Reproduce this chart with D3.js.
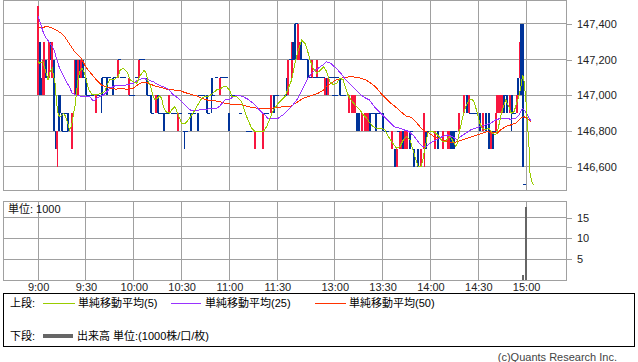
<!DOCTYPE html>
<html>
<head>
<meta charset="utf-8">
<title>Intraday chart</title>
<script src="https://cdn.jsdelivr.net/npm/d3@7"></script>
<style>
  body { margin: 0; background: #fff; }
  svg { display: block; }
  text { font-family: "Liberation Sans", "Noto Sans CJK JP", sans-serif; font-size: 11px; }
</style>
</head>
<body>
<svg id="chart" width="638" height="362"></svg>
<script>
// time axis: bar number from 9:00 (lunch break squeezed)
const timeTicks = [0, 30, 60, 90, 120, 150, 186, 216, 246, 276, 306]
const timeLabels = ["9:00", "9:30", "10:00", "10:30", "11:00", "11:30", "13:00", "13:30", "14:00", "14:30", "15:00"]
const priceTicks = [146600, 146800, 147000, 147200, 147400]
const volTicks = [5, 10, 15]

// 1-minute candles
const barIdx = [0,1,2,3,4,5,7,8,9,10,
  11,12,13,14,15,16,17,18,19,21,
  23,24,25,26,27,28,29,30,31,32,
  34,36,38,40,41,42,43,44,45,47,
  48,50,51,52,54,57,58,59,60,62,
  63,64,65,66,68,69,70,71,72,74,
  75,76,78,79,80,81,82,84,86,88,
  89,92,93,95,96,97,98,100,101,102,
  103,104,106,107,108,109,110,112,114,115,
  116,117,118,120,121,122,123,125,126,127,
  131,132,133,136,137,139,141,142,144,146,
  148,149,150,155,156,157,158,159,160,161,
  162,163,164,165,166,167,168,169,170,171,
  172,173,174,175,176,177,178,179,180,181,
  182,183,184,185,186,187,188,189,190,191,
  192,195,197,198,199,200,201,203,205,206,
  207,208,209,210,212,213,214,216,218,219,
  222,224,225,226,227,228,229,230,231,233,
  234,236,238,240,242,243,244,245,246,247,
  249,251,254,257,258,259,260,261,262,264,
  267,269,270,271,272,273,274,277,279,281,
  283,284,285,286,287,288,289,290,291,292,
  293,294,296,297,298,299,300,301,302,303,
  304,305]

const openP = [147000,147300,147100,147000,147000,147200,147100,147300,147100,147200,
  146800,146700,147000,147000,146900,146800,146900,146800,146900,146700,
  147000,147200,147000,147200,147100,147200,147100,147100,147000,147000,
  147000,146900,147000,147100,147100,147100,147100,147100,147100,147100,
  147100,147100,147200,147100,147100,147000,147000,147000,147000,147100,
  147100,147200,147200,147200,147100,147000,147000,147000,146900,146900,
  147000,146900,146900,146900,146900,146900,146900,146900,146900,146800,
  146900,146800,146800,146900,146900,146900,146900,146900,147000,147000,
  147000,147000,147000,146900,147000,147100,147000,147100,147000,147100,
  147100,147100,147100,146900,147000,147000,147000,147000,147000,146900,
  146800,146800,146800,146700,146800,146800,146700,146900,146900,146900,
  147000,147000,147000,147000,147100,147000,147200,147100,147300,147400,
  147400,147200,147200,147300,147200,147200,147200,147200,147100,147100,
  147100,147100,147100,147100,147100,147100,147100,147100,147000,147100,
  147000,147100,147100,147000,147100,147000,147100,147100,147000,147000,
  147000,146900,146900,146900,146900,146900,146900,146800,146800,146800,
  146800,146900,146900,146900,146900,146900,146900,146900,146800,146800,
  146700,146700,146600,146800,146700,146700,146800,146700,146700,146800,
  146800,146700,146700,146600,146700,146800,146800,146800,146800,146800,
  146700,146800,146700,146700,146700,146800,146800,146800,146800,146800,
  146900,147000,146900,146900,146900,146900,146900,146900,146800,146900,
  146900,146700,146800,146800,146800,146900,146900,146900,146900,147000,
  147000,147000,146900,147000,146900,146900,146900,147100,147100,147400,
  147400,146500]

const highP = [147500,147300,147100,147200,147300,147200,147300,147300,147300,147200,
  146800,146800,147000,147000,146900,146800,146900,146800,146900,146900,
  147200,147200,147200,147200,147200,147200,147100,147100,147000,147000,
  147000,147000,147000,147100,147100,147100,147100,147100,147100,147100,
  147100,147200,147200,147100,147100,147100,147000,147000,147000,147100,
  147200,147200,147200,147200,147100,147000,147000,147000,146900,147000,
  147000,146900,146900,146900,146900,146900,147000,146900,146900,146900,
  146900,146800,146800,146900,146900,146900,146900,146900,147000,147000,
  147000,147000,147000,146900,147000,147100,147000,147100,147100,147100,
  147100,147100,147100,146900,147000,147000,147000,147000,147000,146900,
  146800,146800,146800,146800,146800,146800,146900,146900,146900,147000,
  147000,147000,147000,147000,147100,147200,147200,147300,147300,147400,
  147400,147400,147300,147300,147200,147200,147200,147200,147100,147100,
  147200,147100,147100,147200,147100,147100,147100,147100,147100,147100,
  147100,147100,147100,147000,147100,147000,147100,147100,147000,147000,
  147000,147000,147000,147000,147000,146900,146900,146900,146900,146900,
  146900,146900,146900,146900,146900,146900,146900,146900,146800,146800,
  146800,146700,146700,146800,146800,146800,146800,146800,146800,146800,
  146800,146700,146700,146700,146900,146800,146800,146800,146800,146800,
  146800,146800,146800,146800,146800,146800,146800,146800,146800,146900,
  147000,147000,147000,146900,146900,146900,146900,146900,146900,146900,
  146900,146800,146800,146800,146900,147000,147000,147000,147000,147000,
  147000,147000,147000,147000,146900,146900,147000,147100,147300,147400,
  147400,146500]

const lowP = [147000,147000,147000,147000,147000,147100,147100,147200,147100,146800,
  146700,146600,146800,146900,146800,146800,146900,146800,146800,146700,
  147000,147000,147000,147100,147100,147100,147100,147000,147000,147000,
  147000,146900,147000,146900,147100,147100,147000,147100,147100,147000,
  147100,147100,147200,147100,147100,147000,147000,147000,147000,147100,
  147100,147200,147200,147200,147000,147000,147000,146900,146900,146900,
  146900,146900,146900,146800,146900,146900,146900,146900,146900,146800,
  146900,146700,146800,146900,146800,146900,146900,146800,147000,147000,
  147000,147000,146900,146900,147000,146900,147000,147100,147000,147100,
  147100,147100,147100,146800,147000,147000,147000,147000,147000,146900,
  146800,146800,146800,146700,146800,146800,146700,146900,146900,146900,
  146900,147000,147000,147000,147000,147000,147200,147100,147200,147200,
  147400,147200,147200,147200,147200,147200,147200,147100,147100,147100,
  147100,147100,147100,147100,147100,147100,147100,147100,147000,147000,
  147000,147100,147100,147000,147100,147000,147100,147000,147000,147000,
  147000,146900,146900,146900,146900,146800,146800,146800,146800,146800,
  146800,146800,146900,146900,146800,146900,146900,146800,146800,146800,
  146700,146600,146600,146800,146700,146700,146700,146700,146700,146700,
  146800,146600,146600,146600,146600,146700,146800,146800,146800,146800,
  146700,146700,146700,146700,146700,146700,146700,146700,146800,146800,
  146900,146900,146900,146900,146900,146900,146900,146800,146800,146800,
  146700,146700,146700,146800,146800,146900,146900,146900,146900,146900,
  147000,146900,146900,146800,146900,146900,146900,147000,147100,147000,
  146600,146500]

const closeP = [147500,147000,147000,147200,147300,147100,147300,147200,147300,146800,
  146700,146800,146800,146900,146800,146800,146900,146800,146800,146900,
  147200,147000,147200,147100,147200,147100,147100,147000,147000,147000,
  147000,147000,147000,147000,147100,147100,147000,147100,147100,147000,
  147100,147200,147200,147100,147100,147100,147000,147000,147000,147100,
  147200,147200,147200,147200,147000,147000,147000,146900,146900,147000,
  146900,146900,146900,146800,146900,146900,147000,146900,146900,146900,
  146900,146800,146800,146900,146800,146900,146900,146800,147000,147000,
  147000,147000,146900,146900,147000,147000,147000,147100,147100,147100,
  147100,147100,147100,146800,147000,147000,147000,147000,147000,146900,
  146800,146800,146800,146800,146800,146800,146900,146900,146900,147000,
  146900,147000,147000,147000,147000,147200,147200,147300,147200,147200,
  147400,147400,147300,147200,147200,147200,147200,147100,147100,147100,
  147200,147100,147100,147200,147100,147100,147100,147100,147100,147000,
  147100,147100,147100,147000,147100,147000,147100,147000,147000,147000,
  147000,147000,147000,147000,147000,146800,146800,146900,146900,146900,
  146900,146800,146900,146900,146800,146900,146900,146800,146800,146800,
  146800,146600,146700,146800,146800,146800,146700,146800,146800,146700,
  146800,146600,146600,146700,146900,146700,146800,146800,146800,146800,
  146800,146700,146800,146800,146800,146700,146700,146700,146800,146900,
  147000,146900,147000,146900,146900,146900,146900,146800,146900,146800,
  146700,146800,146700,146800,146900,147000,147000,147000,147000,146900,
  147000,146900,147000,146900,146900,146900,147000,147000,147300,147000,
  146600,146500]

// moving averages: [bar, value]
const ma5 = [[0,147190],[1,147180],[3,147189],[4.5,147143],[6.2,147087],[7.6,147133],[8.9,147152],[9.8,147105],[11,147049],[11.4,146975],
  [12.5,146900],[13.5,146881],[15.2,146891],[16,146900],[17.3,146881],[18.6,146845],[19.8,146807],[21.1,146835],[22.3,146900],[23.1,146937],
  [24,147012],[25,147087],[26.1,147133],[27.7,147152],[29.2,147124],[30.7,147068],[31.9,147031],[34,147003],[36.9,147003],[39.6,147012],
  [41.8,147021],[43.2,147059],[44.9,147087],[48,147091],[50.1,147105],[51.5,147143],[53.2,147152],[55.7,147133],[57.8,147087],[59.7,147077],
  [61.8,147068],[64.3,147115],[66.4,147139],[67.6,147128],[69.1,147077],[70.6,147049],[71.8,147003],[73.3,146975],[74.7,146984],[76,146997],
  [77.5,146984],[78.5,146937],[80.2,146909],[82.3,146900],[83.8,146919],[85.8,146937],[87.9,146891],[90,146845],[92.1,146841],[94.2,146863],
  [96.3,146891],[98.4,146919],[100.4,146952],[102.6,146984],[104.6,146993],[106.7,146993],[109.5,147012],[112,147031],[114,147035],[116.6,147053],
  [118.2,147049],[120.3,147027],[121.4,146993],[124.5,146993],[127.6,146965],[130.8,146881],[133.9,146817],[136,146798],[141.2,146798],[143.3,146825],
  [145.4,146872],[147.5,146919],[150.6,146956],[154.8,146993],[156.9,147040],[159,147087],[161.1,147180],[163.1,147255],[165.3,147310],[167.3,147292],
  [168.8,147255],[170.5,147199],[172.5,147152],[174.7,147124],[177.2,147143],[179.2,147161],[180.9,147133],[183,147077],[185.1,147059],[187.2,147068],
  [189.3,147096],[191.3,147087],[193.5,147021],[195.5,146984],[198.7,146947],[201.8,146919],[203.9,146891],[206,146872],[208.1,146845],[210.2,146825],
  [212.3,146817],[215.4,146817],[217.5,146807],[219.6,146770],[221.7,146742],[224.8,146705],[226.9,146714],[229,146751],[231.1,146770],[233.2,146751],
  [236.3,146658],[238.4,146602],[240.1,146602],[241.2,146639],[243.2,146733],[244.2,146789],[245.3,146798],[247.3,146798],[249.4,146789],[251.4,146770],
  [253.5,146742],[255.6,146742],[257,146761],[258.2,146770],[259.7,146751],[261.8,146714],[262.8,146733],[264.9,146826],[266.6,146891],[268.1,146937],
  [270.2,146975],[272.2,146979],[273.7,146956],[275.4,146900],[277,146845],[278.5,146817],[280.6,146807],[282.7,146817],[284.8,146789],[286.9,146779],
  [288.3,146807],[290,146881],[291.7,146937],[293.2,146975],[295.2,146937],[296.7,146900],[298.4,146909],[300.4,146965],[302.6,147040],[303.8,147115],
  [304.6,147087],[305.7,146993],[306.7,146863],[307.8,146714],[308.4,146565],[309.9,146509],[310.9,146499]]

const ma25 = [[0,147441],[1.4,147404],[3.1,147357],[5.1,147320],[7.3,147295],[8.9,147273],[10.4,147245],[11.8,147199],[13.5,147152],[15.6,147115],
  [17.7,147077],[19.8,147046],[21.4,147012],[23.6,147003],[26.1,146997],[30.2,146993],[32.4,146993],[34,146975],[35,146969],[36.5,146984],
  [38.6,146993],[41.1,147003],[43.2,147021],[44.9,147040],[48,147053],[52.2,147053],[55.3,147059],[59.5,147068],[62.8,147087],[66,147096],
  [69.1,147087],[72.2,147077],[75.4,147059],[78.5,147049],[81.6,147035],[84.8,147003],[87.9,146984],[90,146965],[93.2,146937],[95.2,146919],
  [98.4,146915],[101.5,146919],[104.6,146919],[107.8,146928],[112,146928],[114,146941],[117.2,146975],[120.3,146979],[122.2,146993],[125.3,147003],
  [128.5,146993],[131.6,146979],[134.8,146956],[137.9,146928],[139.9,146909],[142.1,146891],[144.1,146872],[147.3,146869],[150.4,146872],[153.5,146891],
  [156.7,146919],[159.8,146947],[163,146984],[166.1,147040],[169.2,147096],[172.4,147133],[175.5,147152],[178.6,147171],[180.7,147189],[183.6,147180],
  [186.8,147152],[189.9,147124],[193,147087],[196.2,147059],[199.3,147031],[202.4,147003],[205.6,146984],[207.7,146975],[210.8,146937],[213.9,146909],
  [217.1,146881],[220.2,146853],[223.3,146825],[226.5,146817],[229.6,146807],[232.7,146798],[235.9,146770],[239,146733],[241.1,146714],[243.2,146714],
  [247.3,146742],[250.4,146755],[253.5,146770],[256.6,146779],[259.7,146770],[262.8,146751],[264.9,146770],[268.1,146789],[271.2,146807],[274.4,146817],
  [277.5,146826],[280.6,146835],[283.8,146845],[286.9,146863],[290,146872],[293.2,146872],[296.3,146867],[299.4,146872],[301.5,146891],[303.6,146928],
  [305.7,146909],[307.8,146872],[308.9,146859]]

const ma50 = [[0,147376],[3.1,147382],[6.2,147385],[9.3,147376],[11.4,147366],[14.5,147348],[16.7,147329],[18.7,147301],[20.8,147273],[22.9,147245],
  [25,147227],[27.1,147208],[29.2,147171],[31.3,147143],[34,147115],[36.5,147087],[39.6,147059],[42.8,147046],[45.9,147040],[49,147035],
  [52.2,147040],[55.3,147035],[59.5,147040],[63.9,147068],[67,147075],[70.2,147064],[73.3,147053],[76.4,147046],[80.6,147035],[84.8,147031],
  [89,147027],[92.1,147016],[95.2,147008],[99.4,146997],[102.6,146984],[105.7,146975],[109.8,146971],[114,146965],[117.2,146956],[120.3,146952],
  [123.3,146952],[127.4,146947],[130.5,146941],[133.7,146934],[137.9,146928],[142.1,146928],[146.2,146928],[150.4,146934],[154.6,146937],[158.7,146941],
  [162.9,146965],[166.1,146984],[169.2,146993],[172.4,147003],[175.5,147012],[178.6,147027],[180.7,147049],[183.6,147068],[186.8,147087],[189.9,147096],
  [193,147102],[196.2,147105],[199.3,147102],[202.4,147096],[205.6,147087],[208.7,147068],[211.8,147046],[215,147012],[218.1,146984],[221.2,146956],
  [224.4,146934],[227.5,146909],[230.7,146885],[233.8,146878],[236.9,146853],[240.1,146817],[243.2,146798],[245.1,146789],[248.2,146770],[252.4,146755],
  [256.6,146742],[260.8,146736],[262.8,146742],[266,146751],[269.1,146761],[272.2,146770],[275.4,146779],[278.5,146789],[281.6,146798],[284.8,146792],
  [287.9,146789],[290,146807],[293.2,146826],[296.3,146835],[299.4,146845],[302.6,146872],[304.6,146881],[306.7,146872],[308.9,146853]]

// volume, in 1000s
const volIdx = [304, 306]
const volVal = [1.2, 17.6]

const RED = "#f8163f", BLUE = "#003399", GRID = "#a0a0a0"
const LIME = "#99cc00", PURPLE = "#9933ff", ORANGE = "#ff3300"

const left = 3, right = 566
const priceTop = 0, priceBottom = 190, volTop = 201, volBottom = 280

const svg = d3.select("#chart")

const x = d3.scaleLinear().domain([-22, 331]).range([left, right])
const y = d3.scaleLinear().domain([146471, 147534]).range([priceBottom, priceTop])
const yVol = d3.scaleLinear().domain([0, 19]).range([volBottom, volTop])

// grids
const grid = svg.append("g").attr("stroke", GRID).attr("shape-rendering", "crispEdges")
grid.selectAll("line.vx").data(timeTicks).enter().append("line")
    .attr("x1", d => x(d)).attr("x2", d => x(d))
    .attr("y1", priceTop).attr("y2", priceBottom)
grid.selectAll("line.vv").data(timeTicks).enter().append("line")
    .attr("x1", d => x(d)).attr("x2", d => x(d))
    .attr("y1", volTop).attr("y2", volBottom)
grid.selectAll("line.hp").data(priceTicks).enter().append("line")
    .attr("x1", left).attr("x2", right)
    .attr("y1", d => y(d)).attr("y2", d => y(d))
grid.selectAll("line.hv").data(volTicks).enter().append("line")
    .attr("x1", left).attr("x2", right)
    .attr("y1", d => yVol(d)).attr("y2", d => yVol(d))
grid.append("rect").attr("x", left + 0.5).attr("y", priceTop + 0.5)
    .attr("width", right - left).attr("height", priceBottom - priceTop - 0.5).attr("fill", "none")
grid.append("rect").attr("x", left + 0.5).attr("y", volTop + 0.5)
    .attr("width", right - left).attr("height", volBottom - volTop - 0.5).attr("fill", "none")

// axes
const priceAxis = svg.append("g").attr("transform", `translate(${right},0)`)
    .call(d3.axisRight(y).tickValues(priceTicks).tickSize(6).tickPadding(5).tickFormat(d3.format(",")))
const volAxis = svg.append("g").attr("transform", `translate(${right},0)`)
    .call(d3.axisRight(yVol).tickValues(volTicks).tickSize(6).tickPadding(5))
const timeAxis = svg.append("g").attr("transform", `translate(0,${volBottom})`)
    .call(d3.axisBottom(x).tickValues(timeTicks).tickSize(0).tickPadding(3).tickFormat((d, i) => timeLabels[i]))
for (const g of [priceAxis, volAxis, timeAxis]) {
    g.select(".domain").remove()
    g.attr("font-family", null).attr("font-size", null)
    g.selectAll("line").attr("stroke", GRID).attr("shape-rendering", "crispEdges")
    g.selectAll("text").attr("fill", "#222")
}

// candles
const bars = barIdx.map((d, i) => ({ i: d, o: openP[i], h: highP[i], l: lowP[i], c: closeP[i] }))
const colorOf = d => d.c > d.o ? RED : BLUE
const cg = svg.append("g").attr("shape-rendering", "crispEdges")
cg.selectAll("line.wick").data(bars.filter(d => d.h > d.l)).enter().append("line")
    .attr("x1", d => x(d.i)).attr("x2", d => x(d.i))
    .attr("y1", d => y(d.h)).attr("y2", d => y(d.l))
    .attr("stroke", colorOf)
cg.selectAll("rect.body").data(bars.filter(d => d.o !== d.c)).enter().append("rect")
    .attr("x", d => x(d.i) - 1).attr("width", 2)
    .attr("y", d => y(Math.max(d.o, d.c)))
    .attr("height", d => Math.abs(y(d.o) - y(d.c)))
    .attr("fill", colorOf)
cg.selectAll("line.doji").data(bars.filter(d => d.o === d.c)).enter().append("line")
    .attr("x1", d => x(d.i) - 1.5).attr("x2", d => x(d.i) + 1.5)
    .attr("y1", d => y(d.o)).attr("y2", d => y(d.o))
    .attr("stroke", BLUE)

// moving averages
const line = d3.line().x(d => x(d[0])).y(d => y(d[1]))
const maG = svg.append("g").attr("fill", "none").attr("stroke-width", 1).attr("shape-rendering", "crispEdges")
maG.append("path").datum(ma50).attr("d", line).attr("stroke", ORANGE)
maG.append("path").datum(ma25).attr("d", line).attr("stroke", PURPLE)
maG.append("path").datum(ma5).attr("d", line).attr("stroke", LIME)

// volume
svg.append("g").attr("shape-rendering", "crispEdges")
    .selectAll("rect").data(volIdx).enter().append("rect")
    .attr("x", d => x(d) - 1).attr("width", 2)
    .attr("y", (d, i) => yVol(volVal[i]))
    .attr("height", (d, i) => volBottom - yVol(volVal[i]))
    .attr("fill", "#666")

svg.append("text").attr("x", 8).attr("y", 213).attr("fill", "#111").text("単位: 1000")

// legend
const lg = svg.append("g")
lg.append("rect").attr("x", 3.5).attr("y", 293.5).attr("width", 631).attr("height", 53)
    .attr("fill", "none").attr("stroke", "#000").attr("shape-rendering", "crispEdges")
const legendMa = [
    { x0: 43, x1: 75, tx: 78, color: LIME, label: "単純移動平均(5)" },
    { x0: 171, x1: 201, tx: 205, color: PURPLE, label: "単純移動平均(25)" },
    { x0: 315, x1: 346, tx: 349, color: ORANGE, label: "単純移動平均(50)" }
]
lg.append("text").attr("x", 10).attr("y", 307).text("上段:")
legendMa.forEach(m => {
    lg.append("line").attr("x1", m.x0).attr("x2", m.x1).attr("y1", 303.5).attr("y2", 303.5)
        .attr("stroke", m.color).attr("shape-rendering", "crispEdges")
    lg.append("text").attr("x", m.tx).attr("y", 307).text(m.label)
})
lg.append("text").attr("x", 10).attr("y", 340).text("下段:")
lg.append("line").attr("x1", 43).attr("x2", 73).attr("y1", 336).attr("y2", 336)
    .attr("stroke", "#666").attr("stroke-width", 4)
lg.append("text").attr("x", 77).attr("y", 340).text("出来高 単位:(1000株/口/枚)")

svg.append("text").attr("x", 617).attr("y", 361).attr("text-anchor", "end")
    .attr("fill", "#444").text("(c)Quants Research Inc.")
</script>
</body>
</html>
